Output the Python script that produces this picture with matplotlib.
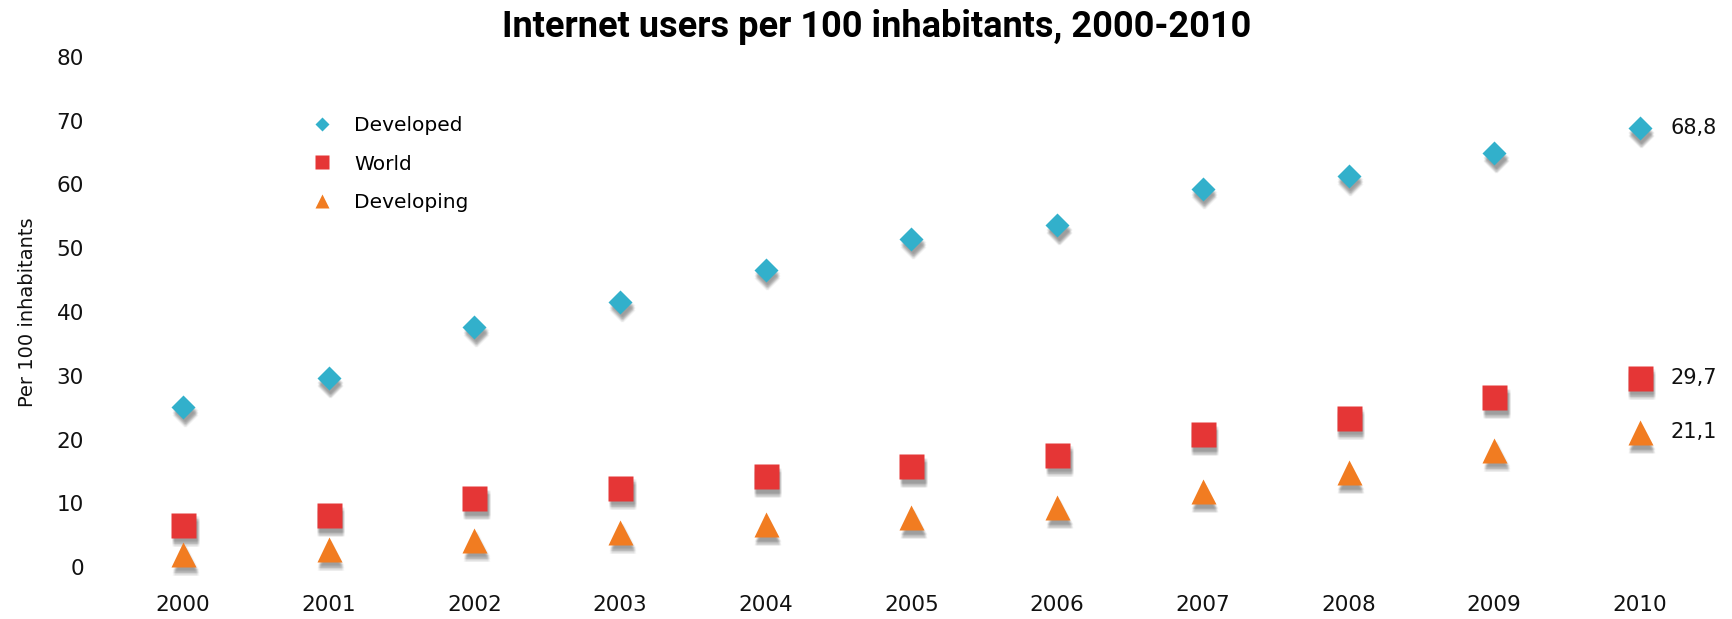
import matplotlib
matplotlib.use("Agg")
import matplotlib.pyplot as plt
from matplotlib.lines import Line2D
from matplotlib.transforms import offset_copy

# Internet users per 100 inhabitants (ITU estimates)
years = [2000, 2001, 2002, 2003, 2004, 2005, 2006, 2007, 2008, 2009, 2010]
developed = [25.1, 29.6, 37.7, 41.6, 46.6, 51.5, 53.6, 59.3, 61.4, 64.9, 68.8]
world = [6.6, 8.1, 10.8, 12.4, 14.2, 15.8, 17.6, 20.8, 23.4, 26.6, 29.7]
developing = [2.1, 2.9, 4.3, 5.5, 6.7, 7.8, 9.4, 11.9, 14.9, 18.4, 21.1]

series_names = ["Developed", "World", "Developing"]
y_ticks = [0, 10, 20, 30, 40, 50, 60, 70, 80]

title = "Internet users per 100 inhabitants, 2000-2010"
y_label = "Per 100 inhabitants"

colors = ["#32B0CB", "#E53636", "#F17C21"]
markers = ["D", "s", "^"]
marker_sizes = [12.7, 18, 18]
legend_sizes = [7, 9.5, 10]

W, H = 1733, 619
fig = plt.figure(figsize=(W / 100, H / 100), dpi=100)
ax = fig.add_axes([100 / W, 52 / H, 1620 / W, 510 / H])
ax.set_xlim(1999.43, 2010.55)
ax.set_ylim(0, 80)

all_series = [developed, world, developing]

# soft drop shadow: stacked, slightly offset translucent copies
shadow_offsets = [(dx, dy) for dx in (0.5, 1.5, 2.5) for dy in (-3.5, -5.0, -6.5, -8.0)]
for vals, m, ms in zip(all_series, markers, marker_sizes):
    for dx, dy in shadow_offsets:
        tr = offset_copy(ax.transData, fig=fig, x=dx, y=dy, units="dots")
        ax.plot(years, vals, ls="none", marker=m, ms=ms, color="#3a3a3a",
                alpha=0.05, mec="none", transform=tr, zorder=1, clip_on=False)

for vals, c, m, ms in zip(all_series, colors, markers, marker_sizes):
    ax.plot(years, vals, ls="none", marker=m, ms=ms, color=c, mec="none",
            zorder=3, clip_on=False)
    last = vals[-1]
    ax.annotate(f"{last:.1f}".replace(".", ","), xy=(years[-1], last),
                xytext=(22, 0), textcoords="offset points", ha="left",
                va="center", fontsize=15, color="#111111")

ax.set_xticks(years)
ax.set_xticklabels([str(y) for y in years])
ax.set_yticks(y_ticks)
ax.tick_params(axis="both", length=0, labelsize=15.5, colors="#111111")
ax.tick_params(axis="x", pad=20.5)
ax.tick_params(axis="y", pad=11.5)
for s in ax.spines.values():
    s.set_visible(False)

ax.set_ylabel(y_label, fontsize=14, color="#111111")
ax.yaxis.set_label_coords(-0.039, 0.5)

handles = [Line2D([], [], ls="none", marker=m, color=c, ms=s, mec="none")
           for m, c, s in zip(markers, colors, legend_sizes)]
fig.legend(handles, series_names, loc="upper left",
           bbox_to_anchor=(312 / W, 1 - 116 / H), frameon=False,
           fontsize=14.5, handlelength=1.0, handletextpad=1.1,
           labelspacing=0.97, borderpad=0, borderaxespad=0)

fig.text(877 / W, 1 - 27 / H, title, ha="center", va="center",
         fontsize=26, fontweight="bold",
         family=["Roboto", "DejaVu Sans"], color="#000000")

fig.savefig("out.png", dpi=100)
